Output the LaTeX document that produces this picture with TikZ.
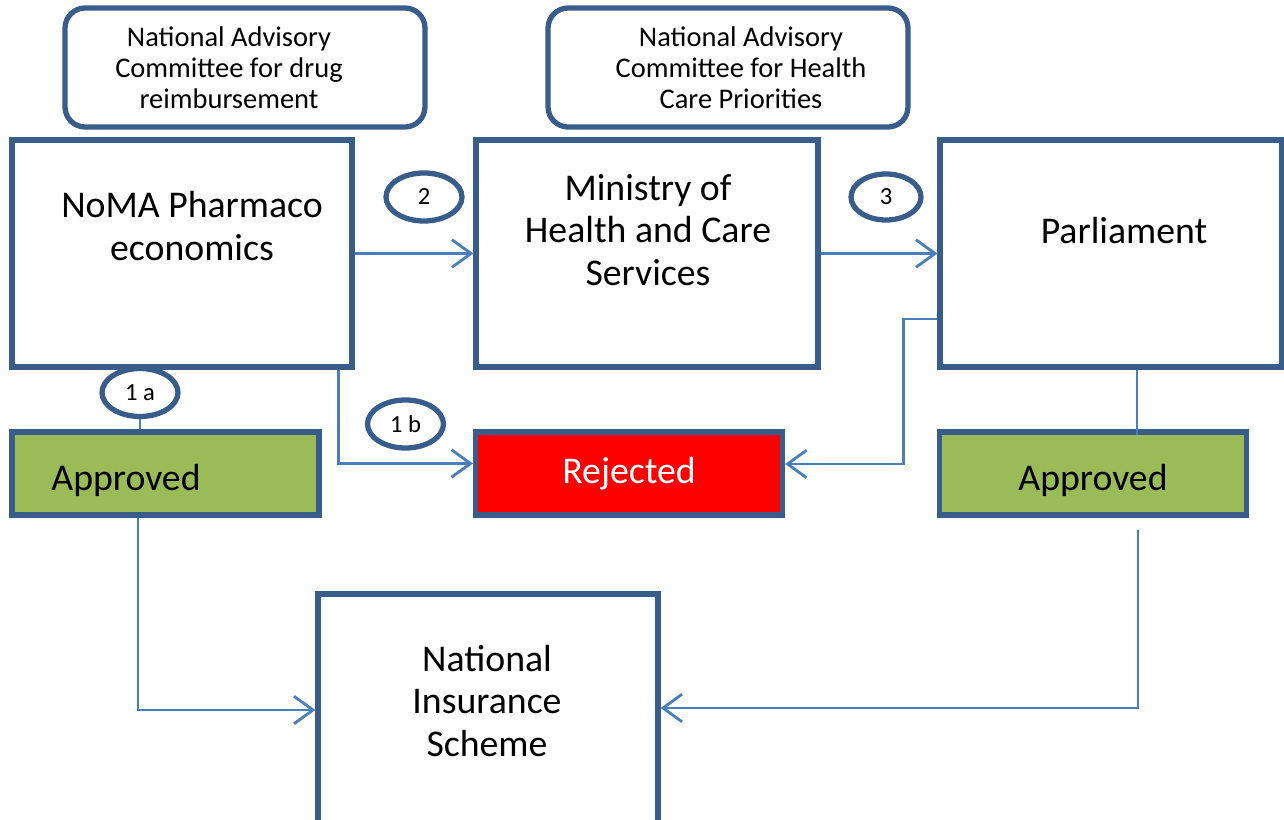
\documentclass[tikz,border=0pt]{standalone}
\usepackage{fontspec}
\setmainfont{Carlito}
\usetikzlibrary{shapes.geometric,arrows.meta}
\definecolor{boxline}{HTML}{385D8A}
\definecolor{linkblue}{HTML}{4A7EBB}
\definecolor{okgreen}{HTML}{9BBB59}
\tikzset{
  stage/.style={draw=boxline, line width=3pt, minimum width=6.8cm, minimum height=4.54cm},
  advisory/.style={draw=boxline, line width=3pt, rounded corners=0.4cm, minimum width=7.2cm, minimum height=2.38cm},
  decision/.style={draw=boxline, line width=3pt, minimum width=6.14cm, minimum height=1.66cm},
  bigtext/.style={align=center, font=\fontsize{21.5}{24}\selectfont},
  smalltext/.style={align=center, font=\fontsize{16.2}{17.6}\selectfont},
  stepno/.style={draw=boxline, line width=3pt, ellipse, fill=white, minimum width=1.52cm, minimum height=0.96cm, inner sep=0pt, font=\fontsize{14}{16}\selectfont},
  link/.style={draw=linkblue, line width=1.6pt},
  linkto/.style={link, -{Straight Barb[length=0.38cm, width=0.55cm]}},
}

\begin{document}
\begin{tikzpicture}[x=0.02cm, y=-0.02cm]
\clip (0,0) rectangle (1284,820);
\fill[white] (0,0) rectangle (1284,820);

% advisory committees on top
\node[advisory] (adv1) at (245,67.5) {};
\node[smalltext] (adv1text) at (229,68) {National Advisory\\Committee for drug\\reimbursement};
\node[advisory] (adv2) at (728,67.5) {};
\node[smalltext] (adv2text) at (741,68) {National Advisory\\Committee for Health\\Care Priorities};

% the three stages
\node[stage] (noma) at (182,253.5) {};
\node[bigtext] (nomatext) at (192,226) {NoMA Pharmaco\\economics};
\node[stage, minimum width=6.84cm] (ministry) at (647,253.5) {};
\node[bigtext] (ministrytext) at (648,230) {Ministry of\\Health and Care\\Services};
\node[stage, minimum width=6.84cm] (parliament) at (1111,253.5) {};
\node[bigtext] (parltext) at (1124,231) {Parliament};

% outcomes
\node[decision, fill=okgreen] (approvedl) at (165.5,473.5) {};
\node[bigtext] (approvedltext) at (126,480) {Approved};
\node[decision, fill=red] (rejected) at (629,473.5) {};
\node[bigtext, text=white] (rejectedtext) at (629,474) {Rejected};
\node[decision, fill=okgreen] (approvedr) at (1093,473.5) {};
\node[bigtext] (approvedrtext) at (1093,480) {Approved};

\node[stage, minimum height=4.92cm] (insurance) at (488,717) {};
\node[bigtext] (insurtext) at (487,701) {National\\Insurance\\Scheme};

% connectors
\draw[linkto] (noma) -- (ministry);
\draw[linkto] (ministry) -- (parliament);
\draw[linkto] ([xshift=-0.32cm]noma.south east) |- ([yshift=0.2cm]rejected.west);
\draw[linkto] ([yshift=-1.31cm]parliament.west) -- ++(-0.68cm,0) |- ([yshift=0.19cm]rejected.east);
\draw[link] ([xshift=0.52cm]parliament.south) -- ++(0,-1.3cm);
\draw[linkto] ([xshift=-0.55cm]approvedl.south) |- ([yshift=0.14cm]insurance.west);
\coordinate (rstart) at (1138,530);
\draw[linkto] (rstart) |- ([yshift=0.18cm]insurance.east);

% step numbers
\node[stepno] (s1a) at (140,392.5) {1 a};
\draw[link] (s1a.south) -- (s1a.south |- approvedl.north);
\node[stepno] (s1b) at (405.5,424) {1 b};
\node[stepno] (s2) at (424,197) {2};
\node[stepno, minimum width=1.4cm, minimum height=0.92cm] (s3) at (886,197) {3};
\end{tikzpicture}
\end{document}
